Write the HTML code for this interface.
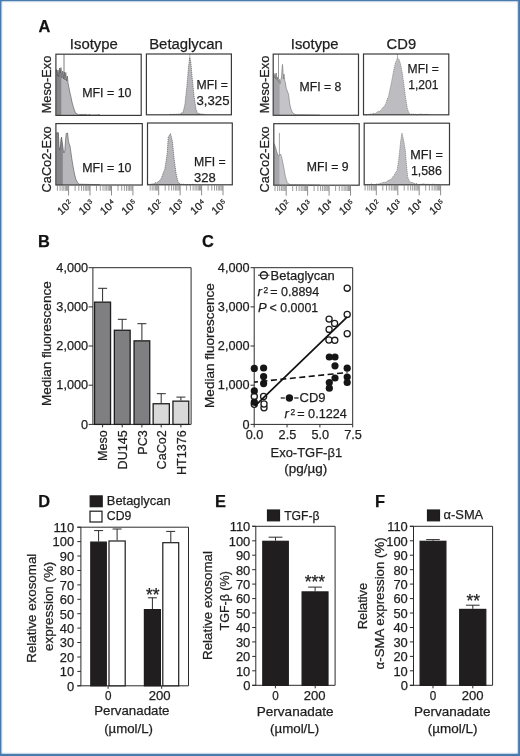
<!DOCTYPE html>
<html><head><meta charset="utf-8"><title>Figure</title>
<style>
html,body{margin:0;padding:0;background:#fff;}
body{width:520px;height:756px;overflow:hidden;position:relative;font-family:"Liberation Sans",sans-serif;}
.ft,.fb,.fl,.fr{position:absolute;}
.ft{left:0;top:0;width:520px;height:5px;background:linear-gradient(to bottom,rgba(70,118,166,1) 0,rgba(74,126,178,1) 0.70px,rgba(74,126,178,.32) 1.50px,rgba(74,126,178,.07) 2.40px,rgba(74,126,178,0) 3.30px);}
.fb{left:0;bottom:0;width:520px;height:6px;background:linear-gradient(to top,rgba(70,118,166,1) 0,rgba(74,126,178,1) 1.70px,rgba(74,126,178,.32) 2.50px,rgba(74,126,178,.07) 3.40px,rgba(74,126,178,0) 4.30px);}
.fl{left:0;top:0;width:6px;height:756px;background:linear-gradient(to right,rgba(70,118,166,1) 0,rgba(74,126,178,1) 0.90px,rgba(74,126,178,.32) 1.70px,rgba(74,126,178,.07) 2.60px,rgba(74,126,178,0) 3.50px);}
.fr{right:0;top:0;width:6px;height:756px;background:linear-gradient(to left,rgba(70,118,166,1) 0,rgba(74,126,178,1) 1.40px,rgba(74,126,178,.32) 2.20px,rgba(74,126,178,.07) 3.10px,rgba(74,126,178,0) 4.00px);}
svg{position:absolute;left:0;top:0;will-change:transform;filter:blur(0.3px);font-family:"Liberation Sans",sans-serif;}
svg text{stroke:#1e1e1e;stroke-width:0.25px;}
</style></head><body>
<svg width="520" height="756" viewBox="0 0 520 756">
<text x="38.4" y="31.6" font-size="16.4" text-anchor="start" font-weight="bold" fill="#111">A</text>
<line x1="64" y1="54.2" x2="64" y2="78" stroke="#7d7d7d" stroke-width="1"/>
<polygon points="56.3,115.4 56.3,72.0 56.6,69.5 57.3,76.0 58.0,70.0 58.7,77.0 59.6,68.0 60.3,73.0 61.0,67.5 61.8,78.0 62.7,71.0 63.5,79.0 64.3,72.0 65.0,80.0 65.8,72.5 66.6,81.0 67.4,76.0 68.0,83.0 69.0,87.8 70.0,93.0 71.0,97.2 72.0,102.0 73.0,105.7 74.0,109.0 75.6,113.3 76.8,113.6 78.0,114.7 79.0,114.7 80.0,114.6 81.0,114.3 82.0,114.8 83.0,114.3 84.0,114.7 85.0,114.4 86.0,114.4 87.0,114.7 88.0,115.2 89.0,114.5 90.0,114.6 91.0,115.0 92.0,115.3 93.0,115.0 94.0,114.8 95.0,115.4 96.0,114.5 97.0,115.3 98.0,114.8 99.0,114.6 100.0,115.0 100.0,115.4" fill="#b7b7bb"/>
<clipPath id="c1"><rect x="55.9" y="54.2" width="5.4" height="61.2"/></clipPath>
<polygon points="56.3,115.4 56.3,72.0 56.6,69.5 57.3,76.0 58.0,70.0 58.7,77.0 59.6,68.0 60.3,73.0 61.0,67.5 61.8,78.0 62.7,71.0 63.5,79.0 64.3,72.0 65.0,80.0 65.8,72.5 66.6,81.0 67.4,76.0 68.0,83.0 69.0,87.8 70.0,93.0 71.0,97.2 72.0,102.0 73.0,105.7 74.0,109.0 75.6,113.3 76.8,113.6 78.0,114.7 79.0,114.7 80.0,114.6 81.0,114.3 82.0,114.8 83.0,114.3 84.0,114.7 85.0,114.4 86.0,114.4 87.0,114.7 88.0,115.2 89.0,114.5 90.0,114.6 91.0,115.0 92.0,115.3 93.0,115.0 94.0,114.8 95.0,115.4 96.0,114.5 97.0,115.3 98.0,114.8 99.0,114.6 100.0,115.0 100.0,115.4" fill="#858589" clip-path="url(#c1)"/>
<polyline points="56.3,72.0 56.6,69.5 57.3,76.0 58.0,70.0 58.7,77.0 59.6,68.0 60.3,73.0 61.0,67.5 61.8,78.0 62.7,71.0 63.5,79.0 64.3,72.0 65.0,80.0 65.8,72.5 66.6,81.0 67.4,76.0 68.0,83.0 69.0,87.8 70.0,93.0 71.0,97.2 72.0,102.0 73.0,105.7 74.0,109.0 75.6,113.3 76.8,113.6 78.0,114.7 79.0,114.7 80.0,114.6 81.0,114.3 82.0,114.8 83.0,114.3 84.0,114.7 85.0,114.4 86.0,114.4 87.0,114.7 88.0,115.2 89.0,114.5 90.0,114.6 91.0,115.0 92.0,115.3 93.0,115.0 94.0,114.8 95.0,115.4 96.0,114.5 97.0,115.3 98.0,114.8 99.0,114.6 100.0,115.0" fill="none" stroke="#505050" stroke-width="0.6" stroke-dasharray="none"/>
<polygon points="56.4,185.0 56.4,133.0 57.4,132.5 58.4,132.8 59.0,146.0 59.6,150.0 60.4,147.0 61.0,139.0 61.6,137.0 62.3,143.0 63.0,148.0 63.8,153.0 64.8,151.0 65.6,140.0 66.2,133.5 67.6,133.0 68.4,141.0 69.2,144.0 70.0,146.0 71.0,153.0 72.0,160.0 73.0,166.0 74.0,171.5 75.0,176.0 76.0,179.5 77.5,182.5 79.0,184.2 100.0,184.7 100.0,185.0" fill="#b7b7bb"/>
<clipPath id="c3"><rect x="55.9" y="123.6" width="6.9" height="61.400000000000006"/></clipPath>
<polygon points="56.4,185.0 56.4,133.0 57.4,132.5 58.4,132.8 59.0,146.0 59.6,150.0 60.4,147.0 61.0,139.0 61.6,137.0 62.3,143.0 63.0,148.0 63.8,153.0 64.8,151.0 65.6,140.0 66.2,133.5 67.6,133.0 68.4,141.0 69.2,144.0 70.0,146.0 71.0,153.0 72.0,160.0 73.0,166.0 74.0,171.5 75.0,176.0 76.0,179.5 77.5,182.5 79.0,184.2 100.0,184.7 100.0,185.0" fill="#858589" clip-path="url(#c3)"/>
<polyline points="56.4,133.0 57.4,132.5 58.4,132.8 59.0,146.0 59.6,150.0 60.4,147.0 61.0,139.0 61.6,137.0 62.3,143.0 63.0,148.0 63.8,153.0 64.8,151.0 65.6,140.0 66.2,133.5 67.6,133.0 68.4,141.0 69.2,144.0 70.0,146.0 71.0,153.0 72.0,160.0 73.0,166.0 74.0,171.5 75.0,176.0 76.0,179.5 77.5,182.5 79.0,184.2 100.0,184.7" fill="none" stroke="#505050" stroke-width="0.6" stroke-dasharray="none"/>
<line x1="278.5" y1="54.1" x2="278.5" y2="79" stroke="#8c8c8c" stroke-width="0.9"/>
<polygon points="273.6,115.3 273.6,73.0 274.3,78.0 275.0,73.5 275.7,79.0 276.3,73.0 277.0,80.0 277.7,77.0 278.4,82.0 279.2,79.0 280.0,84.0 280.8,80.0 281.6,76.0 282.1,68.0 282.5,64.4 282.9,70.0 283.4,79.0 284.0,74.0 284.6,80.0 285.4,83.0 286.3,88.5 287.3,91.0 288.3,93.5 288.9,97.0 289.6,103.0 290.4,107.0 291.2,109.5 292.2,112.0 293.8,113.8 296.0,114.7 320.0,115.0 320.0,115.3" fill="#c4c4c8"/>
<clipPath id="c5"><rect x="273.2" y="54.1" width="6.4" height="61.199999999999996"/></clipPath>
<polygon points="273.6,115.3 273.6,73.0 274.3,78.0 275.0,73.5 275.7,79.0 276.3,73.0 277.0,80.0 277.7,77.0 278.4,82.0 279.2,79.0 280.0,84.0 280.8,80.0 281.6,76.0 282.1,68.0 282.5,64.4 282.9,70.0 283.4,79.0 284.0,74.0 284.6,80.0 285.4,83.0 286.3,88.5 287.3,91.0 288.3,93.5 288.9,97.0 289.6,103.0 290.4,107.0 291.2,109.5 292.2,112.0 293.8,113.8 296.0,114.7 320.0,115.0 320.0,115.3" fill="#a3a3a7" clip-path="url(#c5)"/>
<polyline points="273.6,73.0 274.3,78.0 275.0,73.5 275.7,79.0 276.3,73.0 277.0,80.0 277.7,77.0 278.4,82.0 279.2,79.0 280.0,84.0 280.8,80.0 281.6,76.0 282.1,68.0 282.5,64.4 282.9,70.0 283.4,79.0 284.0,74.0 284.6,80.0 285.4,83.0 286.3,88.5 287.3,91.0 288.3,93.5 288.9,97.0 289.6,103.0 290.4,107.0 291.2,109.5 292.2,112.0 293.8,113.8 296.0,114.7 320.0,115.0" fill="none" stroke="#707070" stroke-width="0.6" stroke-dasharray="none"/>
<line x1="279.4" y1="133" x2="279.4" y2="160" stroke="#9a9a9a" stroke-width="0.9"/>
<polygon points="274.2,185.2 274.2,143.5 275.0,146.0 275.8,148.0 276.7,151.7 277.6,154.0 278.6,156.0 279.6,155.0 280.5,154.0 281.5,156.5 282.5,161.0 283.5,166.0 284.4,171.0 285.4,176.7 286.4,180.0 287.3,182.5 288.6,183.8 290.0,184.6 320.0,185.0 320.0,185.2" fill="#c6c6ca"/>
<clipPath id="c7"><rect x="273.8" y="123.7" width="5.6" height="61.499999999999986"/></clipPath>
<polygon points="274.2,185.2 274.2,143.5 275.0,146.0 275.8,148.0 276.7,151.7 277.6,154.0 278.6,156.0 279.6,155.0 280.5,154.0 281.5,156.5 282.5,161.0 283.5,166.0 284.4,171.0 285.4,176.7 286.4,180.0 287.3,182.5 288.6,183.8 290.0,184.6 320.0,185.0 320.0,185.2" fill="#a6a6aa" clip-path="url(#c7)"/>
<polyline points="274.2,143.5 275.0,146.0 275.8,148.0 276.7,151.7 277.6,154.0 278.6,156.0 279.6,155.0 280.5,154.0 281.5,156.5 282.5,161.0 283.5,166.0 284.4,171.0 285.4,176.7 286.4,180.0 287.3,182.5 288.6,183.8 290.0,184.6 320.0,185.0" fill="none" stroke="#7a7a7a" stroke-width="0.6" stroke-dasharray="none"/>
<line x1="189.8" y1="54.0" x2="189.8" y2="60" stroke="#999" stroke-width="0.7"/>
<polygon points="170.0,114.8 170.0,114.5 171.0,114.2 172.0,114.3 173.0,114.7 174.0,114.1 175.0,114.4 176.0,114.4 177.0,114.2 178.0,114.3 179.0,113.9 180.0,114.2 181.0,113.3 182.0,112.8 183.0,112.5 184.0,108.4 185.0,104.0 186.0,94.4 187.0,85.0 188.5,67.0 189.7,57.5 190.8,62.0 192.0,76.0 193.0,85.9 194.0,96.0 195.0,102.6 196.0,109.0 197.6,113.4 198.7,113.5 199.7,113.6 200.8,114.1 201.8,114.2 202.9,114.0 203.9,114.4 205.0,114.5 205.0,114.8" fill="#b7b7bb"/>
<polyline points="170.0,114.5 171.0,114.2 172.0,114.3 173.0,114.7 174.0,114.1 175.0,114.4 176.0,114.4 177.0,114.2 178.0,114.3 179.0,113.9 180.0,114.2 181.0,113.3 182.0,112.8 183.0,112.5 184.0,108.4 185.0,104.0 186.0,94.4 187.0,85.0 188.5,67.0 189.7,57.5 190.8,62.0 192.0,76.0 193.0,85.9 194.0,96.0 195.0,102.6 196.0,109.0 197.6,113.4 198.7,113.5 199.7,113.6 200.8,114.1 201.8,114.2 202.9,114.0 203.9,114.4 205.0,114.5" fill="none" stroke="#5a5a5a" stroke-width="0.7" stroke-dasharray="1.2 0.8"/>
<polygon points="148.0,184.8 148.0,184.3 149.0,184.2 150.0,184.6 151.0,184.3 152.0,183.5 153.0,184.4 154.0,183.6 155.0,182.7 156.0,182.7 157.0,182.8 158.0,182.0 159.2,180.5 160.4,180.0 161.2,178.5 162.4,175.6 163.5,172.1 164.7,169.8 166.0,161.4 167.3,152.5 168.2,137.0 169.3,135.5 170.4,133.5 171.3,136.5 172.5,142.0 174.2,159.4 176.0,173.0 177.7,181.0 178.8,182.8 180.0,183.8 181.0,184.1 182.0,184.7 183.0,184.4 184.0,184.2 185.0,184.7 186.0,184.6 187.0,184.6 188.0,184.4 189.0,185.0 190.0,185.1 191.0,184.5 192.0,184.8 193.0,184.0 194.0,184.9 195.0,184.6 195.0,184.8" fill="#b7b7bb"/>
<polyline points="148.0,184.3 149.0,184.2 150.0,184.6 151.0,184.3 152.0,183.5 153.0,184.4 154.0,183.6 155.0,182.7 156.0,182.7 157.0,182.8 158.0,182.0 159.2,180.5 160.4,180.0 161.2,178.5 162.4,175.6 163.5,172.1 164.7,169.8 166.0,161.4 167.3,152.5 168.2,137.0 169.3,135.5 170.4,133.5 171.3,136.5 172.5,142.0 174.2,159.4 176.0,173.0 177.7,181.0 178.8,182.8 180.0,183.8 181.0,184.1 182.0,184.7 183.0,184.4 184.0,184.2 185.0,184.7 186.0,184.6 187.0,184.6 188.0,184.4 189.0,185.0 190.0,185.1 191.0,184.5 192.0,184.8 193.0,184.0 194.0,184.9 195.0,184.6" fill="none" stroke="#5a5a5a" stroke-width="0.7" stroke-dasharray="1.2 0.8"/>
<line x1="397.5" y1="54.0" x2="397.5" y2="59" stroke="#999" stroke-width="0.7"/>
<polygon points="364.0,114.8 364.0,114.6 365.1,114.7 366.2,115.1 367.4,114.8 368.5,114.4 369.6,114.0 370.8,114.0 371.9,114.2 373.1,113.2 374.2,113.6 375.4,113.5 376.4,112.5 377.5,111.9 378.5,111.2 379.6,111.5 380.6,110.6 381.7,108.9 382.8,107.7 383.8,106.6 384.9,105.4 386.1,102.9 387.2,99.1 388.4,96.7 389.7,90.6 391.0,84.6 392.3,77.8 393.6,70.8 395.5,62.5 396.5,60.6 397.5,57.8 399.0,59.5 400.5,63.8 402.2,72.5 403.9,84.6 405.7,98.5 407.4,108.8 409.1,113.4 410.3,114.0 411.6,114.3 412.8,113.9 414.0,114.4 415.0,114.3 416.0,114.3 417.0,114.9 418.0,115.0 419.0,114.0 420.0,114.1 421.0,114.2 422.0,114.2 423.0,114.5 424.0,114.6 425.0,114.3 426.0,114.0 427.0,114.5 428.0,114.4 429.0,114.7 430.0,114.6 430.0,114.8" fill="#bdbdc1"/>
<polyline points="364.0,114.6 365.1,114.7 366.2,115.1 367.4,114.8 368.5,114.4 369.6,114.0 370.8,114.0 371.9,114.2 373.1,113.2 374.2,113.6 375.4,113.5 376.4,112.5 377.5,111.9 378.5,111.2 379.6,111.5 380.6,110.6 381.7,108.9 382.8,107.7 383.8,106.6 384.9,105.4 386.1,102.9 387.2,99.1 388.4,96.7 389.7,90.6 391.0,84.6 392.3,77.8 393.6,70.8 395.5,62.5 396.5,60.6 397.5,57.8 399.0,59.5 400.5,63.8 402.2,72.5 403.9,84.6 405.7,98.5 407.4,108.8 409.1,113.4 410.3,114.0 411.6,114.3 412.8,113.9 414.0,114.4 415.0,114.3 416.0,114.3 417.0,114.9 418.0,115.0 419.0,114.0 420.0,114.1 421.0,114.2 422.0,114.2 423.0,114.5 424.0,114.6 425.0,114.3 426.0,114.0 427.0,114.5 428.0,114.4 429.0,114.7 430.0,114.6" fill="none" stroke="#777" stroke-width="0.7" stroke-dasharray="1.2 0.8"/>
<polygon points="365.0,184.8 365.0,184.5 366.1,185.0 367.1,184.7 368.2,184.4 369.2,184.5 370.3,184.5 371.4,183.7 372.4,184.7 373.5,184.5 374.6,184.6 375.6,184.5 376.7,183.9 377.7,183.9 378.8,184.0 379.8,183.3 380.8,183.7 381.8,182.7 382.8,182.5 383.8,182.4 384.8,182.1 385.8,182.3 386.8,181.6 387.9,180.7 388.9,180.1 390.0,179.8 391.0,179.7 392.3,177.4 393.6,176.0 394.7,174.2 395.9,172.1 397.0,171.0 398.7,159.8 400.5,142.5 401.9,133.0 403.4,139.0 405.2,149.4 406.5,165.0 407.7,177.0 408.9,179.9 410.0,182.0 411.0,182.5 412.0,182.3 413.0,182.7 414.0,183.2 415.0,183.7 416.0,183.7 417.0,183.5 418.0,184.5 419.0,184.8 420.0,184.3 421.0,184.3 422.0,184.3 423.0,183.8 424.0,183.9 425.0,184.2 426.0,184.1 427.0,184.8 428.0,184.0 429.0,183.9 430.0,185.0 431.0,184.5 432.0,184.1 433.0,184.5 434.0,183.9 435.0,184.6 436.0,185.1 437.0,185.0 438.0,184.8 439.0,184.3 440.0,184.6 440.0,184.8" fill="#bdbdc1"/>
<polyline points="365.0,184.5 366.1,185.0 367.1,184.7 368.2,184.4 369.2,184.5 370.3,184.5 371.4,183.7 372.4,184.7 373.5,184.5 374.6,184.6 375.6,184.5 376.7,183.9 377.7,183.9 378.8,184.0 379.8,183.3 380.8,183.7 381.8,182.7 382.8,182.5 383.8,182.4 384.8,182.1 385.8,182.3 386.8,181.6 387.9,180.7 388.9,180.1 390.0,179.8 391.0,179.7 392.3,177.4 393.6,176.0 394.7,174.2 395.9,172.1 397.0,171.0 398.7,159.8 400.5,142.5 401.9,133.0 403.4,139.0 405.2,149.4 406.5,165.0 407.7,177.0 408.9,179.9 410.0,182.0 411.0,182.5 412.0,182.3 413.0,182.7 414.0,183.2 415.0,183.7 416.0,183.7 417.0,183.5 418.0,184.5 419.0,184.8 420.0,184.3 421.0,184.3 422.0,184.3 423.0,183.8 424.0,183.9 425.0,184.2 426.0,184.1 427.0,184.8 428.0,184.0 429.0,183.9 430.0,185.0 431.0,184.5 432.0,184.1 433.0,184.5 434.0,183.9 435.0,184.6 436.0,185.1 437.0,185.0 438.0,184.8 439.0,184.3 440.0,184.6" fill="none" stroke="#777" stroke-width="0.7" stroke-dasharray="1.2 0.8"/>
<rect x="55.90" y="54.20" width="85.30" height="61.20" fill="none" stroke="#3a3a3a" stroke-width="1.2"/>
<rect x="146.40" y="54.00" width="85.00" height="60.80" fill="none" stroke="#3a3a3a" stroke-width="1.2"/>
<rect x="55.90" y="123.60" width="86.40" height="61.40" fill="none" stroke="#3a3a3a" stroke-width="1.2"/>
<rect x="147.50" y="123.00" width="84.80" height="61.80" fill="none" stroke="#3a3a3a" stroke-width="1.2"/>
<rect x="273.20" y="54.10" width="85.30" height="61.20" fill="none" stroke="#3a3a3a" stroke-width="1.2"/>
<rect x="363.50" y="54.00" width="85.30" height="60.80" fill="none" stroke="#3a3a3a" stroke-width="1.2"/>
<rect x="273.80" y="123.70" width="85.40" height="61.50" fill="none" stroke="#3a3a3a" stroke-width="1.2"/>
<rect x="364.20" y="123.20" width="85.30" height="61.60" fill="none" stroke="#3a3a3a" stroke-width="1.2"/>
<text x="69.8" y="48.6" font-size="14.9" text-anchor="start" font-weight="normal" fill="#1e1e1e" textLength="48.1" lengthAdjust="spacingAndGlyphs">Isotype</text>
<text x="149.2" y="48.6" font-size="14.9" text-anchor="start" font-weight="normal" fill="#1e1e1e" textLength="73.6" lengthAdjust="spacingAndGlyphs">Betaglycan</text>
<text x="290.8" y="48.8" font-size="14.9" text-anchor="start" font-weight="normal" fill="#1e1e1e" textLength="47.8" lengthAdjust="spacingAndGlyphs">Isotype</text>
<text x="386.6" y="48.8" font-size="14.9" text-anchor="start" font-weight="normal" fill="#1e1e1e" textLength="29.5" lengthAdjust="spacingAndGlyphs">CD9</text>
<text x="51.3" y="84.5" font-size="12.8" text-anchor="middle" font-weight="normal" fill="#1e1e1e" transform="rotate(-90 51.3 84.5)">Meso-Exo</text>
<text x="51.3" y="159.4" font-size="12.8" text-anchor="middle" font-weight="normal" fill="#1e1e1e" transform="rotate(-90 51.3 159.4)">CaCo2-Exo</text>
<text x="268.6" y="84.5" font-size="12.8" text-anchor="middle" font-weight="normal" fill="#1e1e1e" transform="rotate(-90 268.6 84.5)">Meso-Exo</text>
<text x="268.6" y="159.4" font-size="12.8" text-anchor="middle" font-weight="normal" fill="#1e1e1e" transform="rotate(-90 268.6 159.4)">CaCo2-Exo</text>
<text x="82.2" y="97" font-size="13" text-anchor="start" font-weight="normal" fill="#1e1e1e" textLength="49.3" lengthAdjust="spacingAndGlyphs">MFI = 10</text>
<text x="82.2" y="171.5" font-size="13" text-anchor="start" font-weight="normal" fill="#1e1e1e" textLength="49.3" lengthAdjust="spacingAndGlyphs">MFI = 10</text>
<text x="196.5" y="89.4" font-size="13" text-anchor="start" font-weight="normal" fill="#1e1e1e" textLength="31.5" lengthAdjust="spacingAndGlyphs">MFI =</text>
<text x="196.5" y="105" font-size="13" text-anchor="start" font-weight="normal" fill="#1e1e1e" textLength="33" lengthAdjust="spacingAndGlyphs">3,325</text>
<text x="194.1" y="166.3" font-size="13" text-anchor="start" font-weight="normal" fill="#1e1e1e" textLength="31.7" lengthAdjust="spacingAndGlyphs">MFI =</text>
<text x="194.1" y="181.9" font-size="13" text-anchor="start" font-weight="normal" fill="#1e1e1e">328</text>
<text x="299.6" y="91.2" font-size="13" text-anchor="start" font-weight="normal" fill="#1e1e1e" textLength="41.7" lengthAdjust="spacingAndGlyphs">MFI = 8</text>
<text x="306.7" y="170.7" font-size="13" text-anchor="start" font-weight="normal" fill="#1e1e1e" textLength="41.9" lengthAdjust="spacingAndGlyphs">MFI = 9</text>
<text x="407.6" y="73.4" font-size="13" text-anchor="start" font-weight="normal" fill="#1e1e1e" textLength="31.2" lengthAdjust="spacingAndGlyphs">MFI =</text>
<text x="408.3" y="88.9" font-size="13" text-anchor="start" font-weight="normal" fill="#1e1e1e" textLength="30.2" lengthAdjust="spacingAndGlyphs">1,201</text>
<text x="410.2" y="158.9" font-size="13" text-anchor="start" font-weight="normal" fill="#1e1e1e" textLength="32.6" lengthAdjust="spacingAndGlyphs">MFI =</text>
<text x="410.9" y="174.5" font-size="13" text-anchor="start" font-weight="normal" fill="#1e1e1e" textLength="31.0" lengthAdjust="spacingAndGlyphs">1,586</text>
<line x1="68.6" y1="185.0" x2="68.6" y2="195.5" stroke="#808080" stroke-width="0.9"/>
<g transform="translate(73.3 204.5) rotate(-42)"><text x="0" y="0" font-size="10.8" text-anchor="end" fill="#1e1e1e">10<tspan font-size="6.6" dy="-3.2" dx="0.6">2</tspan></text></g>
<line x1="90.0" y1="185.0" x2="90.0" y2="195.5" stroke="#808080" stroke-width="0.9"/>
<g transform="translate(94.8 204.5) rotate(-42)"><text x="0" y="0" font-size="10.8" text-anchor="end" fill="#1e1e1e">10<tspan font-size="6.6" dy="-3.2" dx="0.6">3</tspan></text></g>
<line x1="111.5" y1="185.0" x2="111.5" y2="195.5" stroke="#808080" stroke-width="0.9"/>
<g transform="translate(116.2 204.5) rotate(-42)"><text x="0" y="0" font-size="10.8" text-anchor="end" fill="#1e1e1e">10<tspan font-size="6.6" dy="-3.2" dx="0.6">4</tspan></text></g>
<line x1="132.9" y1="185.0" x2="132.9" y2="195.5" stroke="#808080" stroke-width="0.9"/>
<g transform="translate(137.6 204.5) rotate(-42)"><text x="0" y="0" font-size="10.8" text-anchor="end" fill="#1e1e1e">10<tspan font-size="6.6" dy="-3.2" dx="0.6">5</tspan></text></g>
<line x1="57.4" y1="185.0" x2="57.4" y2="190.8" stroke="#7c7c7c" stroke-width="0.75"/>
<line x1="60.1" y1="185.0" x2="60.1" y2="190.8" stroke="#7c7c7c" stroke-width="0.75"/>
<line x1="62.1" y1="185.0" x2="62.1" y2="190.8" stroke="#7c7c7c" stroke-width="0.75"/>
<line x1="63.8" y1="185.0" x2="63.8" y2="190.8" stroke="#7c7c7c" stroke-width="0.75"/>
<line x1="65.3" y1="185.0" x2="65.3" y2="190.8" stroke="#7c7c7c" stroke-width="0.75"/>
<line x1="66.5" y1="185.0" x2="66.5" y2="190.8" stroke="#7c7c7c" stroke-width="0.75"/>
<line x1="67.6" y1="185.0" x2="67.6" y2="190.8" stroke="#7c7c7c" stroke-width="0.75"/>
<line x1="75.1" y1="185.0" x2="75.1" y2="190.8" stroke="#7c7c7c" stroke-width="0.75"/>
<line x1="78.8" y1="185.0" x2="78.8" y2="190.8" stroke="#7c7c7c" stroke-width="0.75"/>
<line x1="81.5" y1="185.0" x2="81.5" y2="190.8" stroke="#7c7c7c" stroke-width="0.75"/>
<line x1="83.6" y1="185.0" x2="83.6" y2="190.8" stroke="#7c7c7c" stroke-width="0.75"/>
<line x1="85.3" y1="185.0" x2="85.3" y2="190.8" stroke="#7c7c7c" stroke-width="0.75"/>
<line x1="86.7" y1="185.0" x2="86.7" y2="190.8" stroke="#7c7c7c" stroke-width="0.75"/>
<line x1="88.0" y1="185.0" x2="88.0" y2="190.8" stroke="#7c7c7c" stroke-width="0.75"/>
<line x1="89.1" y1="185.0" x2="89.1" y2="190.8" stroke="#7c7c7c" stroke-width="0.75"/>
<line x1="96.5" y1="185.0" x2="96.5" y2="190.8" stroke="#7c7c7c" stroke-width="0.75"/>
<line x1="100.3" y1="185.0" x2="100.3" y2="190.8" stroke="#7c7c7c" stroke-width="0.75"/>
<line x1="103.0" y1="185.0" x2="103.0" y2="190.8" stroke="#7c7c7c" stroke-width="0.75"/>
<line x1="105.0" y1="185.0" x2="105.0" y2="190.8" stroke="#7c7c7c" stroke-width="0.75"/>
<line x1="106.7" y1="185.0" x2="106.7" y2="190.8" stroke="#7c7c7c" stroke-width="0.75"/>
<line x1="108.2" y1="185.0" x2="108.2" y2="190.8" stroke="#7c7c7c" stroke-width="0.75"/>
<line x1="109.4" y1="185.0" x2="109.4" y2="190.8" stroke="#7c7c7c" stroke-width="0.75"/>
<line x1="110.5" y1="185.0" x2="110.5" y2="190.8" stroke="#7c7c7c" stroke-width="0.75"/>
<line x1="118.0" y1="185.0" x2="118.0" y2="190.8" stroke="#7c7c7c" stroke-width="0.75"/>
<line x1="121.7" y1="185.0" x2="121.7" y2="190.8" stroke="#7c7c7c" stroke-width="0.75"/>
<line x1="124.4" y1="185.0" x2="124.4" y2="190.8" stroke="#7c7c7c" stroke-width="0.75"/>
<line x1="126.5" y1="185.0" x2="126.5" y2="190.8" stroke="#7c7c7c" stroke-width="0.75"/>
<line x1="128.2" y1="185.0" x2="128.2" y2="190.8" stroke="#7c7c7c" stroke-width="0.75"/>
<line x1="129.6" y1="185.0" x2="129.6" y2="190.8" stroke="#7c7c7c" stroke-width="0.75"/>
<line x1="130.9" y1="185.0" x2="130.9" y2="190.8" stroke="#7c7c7c" stroke-width="0.75"/>
<line x1="132.0" y1="185.0" x2="132.0" y2="190.8" stroke="#7c7c7c" stroke-width="0.75"/>
<line x1="158.7" y1="184.8" x2="158.7" y2="195.3" stroke="#808080" stroke-width="0.9"/>
<g transform="translate(163.4 204.3) rotate(-42)"><text x="0" y="0" font-size="10.8" text-anchor="end" fill="#1e1e1e">10<tspan font-size="6.6" dy="-3.2" dx="0.6">2</tspan></text></g>
<line x1="180.1" y1="184.8" x2="180.1" y2="195.3" stroke="#808080" stroke-width="0.9"/>
<g transform="translate(184.8 204.3) rotate(-42)"><text x="0" y="0" font-size="10.8" text-anchor="end" fill="#1e1e1e">10<tspan font-size="6.6" dy="-3.2" dx="0.6">3</tspan></text></g>
<line x1="201.6" y1="184.8" x2="201.6" y2="195.3" stroke="#808080" stroke-width="0.9"/>
<g transform="translate(206.3 204.3) rotate(-42)"><text x="0" y="0" font-size="10.8" text-anchor="end" fill="#1e1e1e">10<tspan font-size="6.6" dy="-3.2" dx="0.6">4</tspan></text></g>
<line x1="223.0" y1="184.8" x2="223.0" y2="195.3" stroke="#808080" stroke-width="0.9"/>
<g transform="translate(227.7 204.3) rotate(-42)"><text x="0" y="0" font-size="10.8" text-anchor="end" fill="#1e1e1e">10<tspan font-size="6.6" dy="-3.2" dx="0.6">5</tspan></text></g>
<line x1="150.2" y1="184.8" x2="150.2" y2="190.60000000000002" stroke="#7c7c7c" stroke-width="0.75"/>
<line x1="152.2" y1="184.8" x2="152.2" y2="190.60000000000002" stroke="#7c7c7c" stroke-width="0.75"/>
<line x1="153.9" y1="184.8" x2="153.9" y2="190.60000000000002" stroke="#7c7c7c" stroke-width="0.75"/>
<line x1="155.4" y1="184.8" x2="155.4" y2="190.60000000000002" stroke="#7c7c7c" stroke-width="0.75"/>
<line x1="156.6" y1="184.8" x2="156.6" y2="190.60000000000002" stroke="#7c7c7c" stroke-width="0.75"/>
<line x1="157.7" y1="184.8" x2="157.7" y2="190.60000000000002" stroke="#7c7c7c" stroke-width="0.75"/>
<line x1="165.2" y1="184.8" x2="165.2" y2="190.60000000000002" stroke="#7c7c7c" stroke-width="0.75"/>
<line x1="168.9" y1="184.8" x2="168.9" y2="190.60000000000002" stroke="#7c7c7c" stroke-width="0.75"/>
<line x1="171.6" y1="184.8" x2="171.6" y2="190.60000000000002" stroke="#7c7c7c" stroke-width="0.75"/>
<line x1="173.7" y1="184.8" x2="173.7" y2="190.60000000000002" stroke="#7c7c7c" stroke-width="0.75"/>
<line x1="175.4" y1="184.8" x2="175.4" y2="190.60000000000002" stroke="#7c7c7c" stroke-width="0.75"/>
<line x1="176.8" y1="184.8" x2="176.8" y2="190.60000000000002" stroke="#7c7c7c" stroke-width="0.75"/>
<line x1="178.1" y1="184.8" x2="178.1" y2="190.60000000000002" stroke="#7c7c7c" stroke-width="0.75"/>
<line x1="179.2" y1="184.8" x2="179.2" y2="190.60000000000002" stroke="#7c7c7c" stroke-width="0.75"/>
<line x1="186.6" y1="184.8" x2="186.6" y2="190.60000000000002" stroke="#7c7c7c" stroke-width="0.75"/>
<line x1="190.4" y1="184.8" x2="190.4" y2="190.60000000000002" stroke="#7c7c7c" stroke-width="0.75"/>
<line x1="193.1" y1="184.8" x2="193.1" y2="190.60000000000002" stroke="#7c7c7c" stroke-width="0.75"/>
<line x1="195.1" y1="184.8" x2="195.1" y2="190.60000000000002" stroke="#7c7c7c" stroke-width="0.75"/>
<line x1="196.8" y1="184.8" x2="196.8" y2="190.60000000000002" stroke="#7c7c7c" stroke-width="0.75"/>
<line x1="198.3" y1="184.8" x2="198.3" y2="190.60000000000002" stroke="#7c7c7c" stroke-width="0.75"/>
<line x1="199.5" y1="184.8" x2="199.5" y2="190.60000000000002" stroke="#7c7c7c" stroke-width="0.75"/>
<line x1="200.6" y1="184.8" x2="200.6" y2="190.60000000000002" stroke="#7c7c7c" stroke-width="0.75"/>
<line x1="208.1" y1="184.8" x2="208.1" y2="190.60000000000002" stroke="#7c7c7c" stroke-width="0.75"/>
<line x1="211.8" y1="184.8" x2="211.8" y2="190.60000000000002" stroke="#7c7c7c" stroke-width="0.75"/>
<line x1="214.5" y1="184.8" x2="214.5" y2="190.60000000000002" stroke="#7c7c7c" stroke-width="0.75"/>
<line x1="216.6" y1="184.8" x2="216.6" y2="190.60000000000002" stroke="#7c7c7c" stroke-width="0.75"/>
<line x1="218.3" y1="184.8" x2="218.3" y2="190.60000000000002" stroke="#7c7c7c" stroke-width="0.75"/>
<line x1="219.7" y1="184.8" x2="219.7" y2="190.60000000000002" stroke="#7c7c7c" stroke-width="0.75"/>
<line x1="221.0" y1="184.8" x2="221.0" y2="190.60000000000002" stroke="#7c7c7c" stroke-width="0.75"/>
<line x1="222.1" y1="184.8" x2="222.1" y2="190.60000000000002" stroke="#7c7c7c" stroke-width="0.75"/>
<line x1="286.2" y1="185.2" x2="286.2" y2="195.7" stroke="#808080" stroke-width="0.9"/>
<g transform="translate(290.9 204.7) rotate(-42)"><text x="0" y="0" font-size="10.8" text-anchor="end" fill="#1e1e1e">10<tspan font-size="6.6" dy="-3.2" dx="0.6">2</tspan></text></g>
<line x1="307.6" y1="185.2" x2="307.6" y2="195.7" stroke="#808080" stroke-width="0.9"/>
<g transform="translate(312.3 204.7) rotate(-42)"><text x="0" y="0" font-size="10.8" text-anchor="end" fill="#1e1e1e">10<tspan font-size="6.6" dy="-3.2" dx="0.6">3</tspan></text></g>
<line x1="329.1" y1="185.2" x2="329.1" y2="195.7" stroke="#808080" stroke-width="0.9"/>
<g transform="translate(333.8 204.7) rotate(-42)"><text x="0" y="0" font-size="10.8" text-anchor="end" fill="#1e1e1e">10<tspan font-size="6.6" dy="-3.2" dx="0.6">4</tspan></text></g>
<line x1="350.5" y1="185.2" x2="350.5" y2="195.7" stroke="#808080" stroke-width="0.9"/>
<g transform="translate(355.2 204.7) rotate(-42)"><text x="0" y="0" font-size="10.8" text-anchor="end" fill="#1e1e1e">10<tspan font-size="6.6" dy="-3.2" dx="0.6">5</tspan></text></g>
<line x1="275.0" y1="185.2" x2="275.0" y2="191.0" stroke="#7c7c7c" stroke-width="0.75"/>
<line x1="277.7" y1="185.2" x2="277.7" y2="191.0" stroke="#7c7c7c" stroke-width="0.75"/>
<line x1="279.7" y1="185.2" x2="279.7" y2="191.0" stroke="#7c7c7c" stroke-width="0.75"/>
<line x1="281.4" y1="185.2" x2="281.4" y2="191.0" stroke="#7c7c7c" stroke-width="0.75"/>
<line x1="282.9" y1="185.2" x2="282.9" y2="191.0" stroke="#7c7c7c" stroke-width="0.75"/>
<line x1="284.1" y1="185.2" x2="284.1" y2="191.0" stroke="#7c7c7c" stroke-width="0.75"/>
<line x1="285.2" y1="185.2" x2="285.2" y2="191.0" stroke="#7c7c7c" stroke-width="0.75"/>
<line x1="292.7" y1="185.2" x2="292.7" y2="191.0" stroke="#7c7c7c" stroke-width="0.75"/>
<line x1="296.4" y1="185.2" x2="296.4" y2="191.0" stroke="#7c7c7c" stroke-width="0.75"/>
<line x1="299.1" y1="185.2" x2="299.1" y2="191.0" stroke="#7c7c7c" stroke-width="0.75"/>
<line x1="301.2" y1="185.2" x2="301.2" y2="191.0" stroke="#7c7c7c" stroke-width="0.75"/>
<line x1="302.9" y1="185.2" x2="302.9" y2="191.0" stroke="#7c7c7c" stroke-width="0.75"/>
<line x1="304.3" y1="185.2" x2="304.3" y2="191.0" stroke="#7c7c7c" stroke-width="0.75"/>
<line x1="305.6" y1="185.2" x2="305.6" y2="191.0" stroke="#7c7c7c" stroke-width="0.75"/>
<line x1="306.7" y1="185.2" x2="306.7" y2="191.0" stroke="#7c7c7c" stroke-width="0.75"/>
<line x1="314.1" y1="185.2" x2="314.1" y2="191.0" stroke="#7c7c7c" stroke-width="0.75"/>
<line x1="317.9" y1="185.2" x2="317.9" y2="191.0" stroke="#7c7c7c" stroke-width="0.75"/>
<line x1="320.6" y1="185.2" x2="320.6" y2="191.0" stroke="#7c7c7c" stroke-width="0.75"/>
<line x1="322.6" y1="185.2" x2="322.6" y2="191.0" stroke="#7c7c7c" stroke-width="0.75"/>
<line x1="324.3" y1="185.2" x2="324.3" y2="191.0" stroke="#7c7c7c" stroke-width="0.75"/>
<line x1="325.8" y1="185.2" x2="325.8" y2="191.0" stroke="#7c7c7c" stroke-width="0.75"/>
<line x1="327.0" y1="185.2" x2="327.0" y2="191.0" stroke="#7c7c7c" stroke-width="0.75"/>
<line x1="328.1" y1="185.2" x2="328.1" y2="191.0" stroke="#7c7c7c" stroke-width="0.75"/>
<line x1="335.6" y1="185.2" x2="335.6" y2="191.0" stroke="#7c7c7c" stroke-width="0.75"/>
<line x1="339.3" y1="185.2" x2="339.3" y2="191.0" stroke="#7c7c7c" stroke-width="0.75"/>
<line x1="342.0" y1="185.2" x2="342.0" y2="191.0" stroke="#7c7c7c" stroke-width="0.75"/>
<line x1="344.1" y1="185.2" x2="344.1" y2="191.0" stroke="#7c7c7c" stroke-width="0.75"/>
<line x1="345.8" y1="185.2" x2="345.8" y2="191.0" stroke="#7c7c7c" stroke-width="0.75"/>
<line x1="347.2" y1="185.2" x2="347.2" y2="191.0" stroke="#7c7c7c" stroke-width="0.75"/>
<line x1="348.5" y1="185.2" x2="348.5" y2="191.0" stroke="#7c7c7c" stroke-width="0.75"/>
<line x1="349.6" y1="185.2" x2="349.6" y2="191.0" stroke="#7c7c7c" stroke-width="0.75"/>
<line x1="376.3" y1="184.8" x2="376.3" y2="195.3" stroke="#808080" stroke-width="0.9"/>
<g transform="translate(381.0 204.3) rotate(-42)"><text x="0" y="0" font-size="10.8" text-anchor="end" fill="#1e1e1e">10<tspan font-size="6.6" dy="-3.2" dx="0.6">2</tspan></text></g>
<line x1="397.8" y1="184.8" x2="397.8" y2="195.3" stroke="#808080" stroke-width="0.9"/>
<g transform="translate(402.4 204.3) rotate(-42)"><text x="0" y="0" font-size="10.8" text-anchor="end" fill="#1e1e1e">10<tspan font-size="6.6" dy="-3.2" dx="0.6">3</tspan></text></g>
<line x1="419.2" y1="184.8" x2="419.2" y2="195.3" stroke="#808080" stroke-width="0.9"/>
<g transform="translate(423.9 204.3) rotate(-42)"><text x="0" y="0" font-size="10.8" text-anchor="end" fill="#1e1e1e">10<tspan font-size="6.6" dy="-3.2" dx="0.6">4</tspan></text></g>
<line x1="440.6" y1="184.8" x2="440.6" y2="195.3" stroke="#808080" stroke-width="0.9"/>
<g transform="translate(445.3 204.3) rotate(-42)"><text x="0" y="0" font-size="10.8" text-anchor="end" fill="#1e1e1e">10<tspan font-size="6.6" dy="-3.2" dx="0.6">5</tspan></text></g>
<line x1="365.1" y1="184.8" x2="365.1" y2="190.60000000000002" stroke="#7c7c7c" stroke-width="0.75"/>
<line x1="367.8" y1="184.8" x2="367.8" y2="190.60000000000002" stroke="#7c7c7c" stroke-width="0.75"/>
<line x1="369.8" y1="184.8" x2="369.8" y2="190.60000000000002" stroke="#7c7c7c" stroke-width="0.75"/>
<line x1="371.5" y1="184.8" x2="371.5" y2="190.60000000000002" stroke="#7c7c7c" stroke-width="0.75"/>
<line x1="373.0" y1="184.8" x2="373.0" y2="190.60000000000002" stroke="#7c7c7c" stroke-width="0.75"/>
<line x1="374.2" y1="184.8" x2="374.2" y2="190.60000000000002" stroke="#7c7c7c" stroke-width="0.75"/>
<line x1="375.3" y1="184.8" x2="375.3" y2="190.60000000000002" stroke="#7c7c7c" stroke-width="0.75"/>
<line x1="382.8" y1="184.8" x2="382.8" y2="190.60000000000002" stroke="#7c7c7c" stroke-width="0.75"/>
<line x1="386.5" y1="184.8" x2="386.5" y2="190.60000000000002" stroke="#7c7c7c" stroke-width="0.75"/>
<line x1="389.2" y1="184.8" x2="389.2" y2="190.60000000000002" stroke="#7c7c7c" stroke-width="0.75"/>
<line x1="391.3" y1="184.8" x2="391.3" y2="190.60000000000002" stroke="#7c7c7c" stroke-width="0.75"/>
<line x1="393.0" y1="184.8" x2="393.0" y2="190.60000000000002" stroke="#7c7c7c" stroke-width="0.75"/>
<line x1="394.4" y1="184.8" x2="394.4" y2="190.60000000000002" stroke="#7c7c7c" stroke-width="0.75"/>
<line x1="395.7" y1="184.8" x2="395.7" y2="190.60000000000002" stroke="#7c7c7c" stroke-width="0.75"/>
<line x1="396.8" y1="184.8" x2="396.8" y2="190.60000000000002" stroke="#7c7c7c" stroke-width="0.75"/>
<line x1="404.2" y1="184.8" x2="404.2" y2="190.60000000000002" stroke="#7c7c7c" stroke-width="0.75"/>
<line x1="408.0" y1="184.8" x2="408.0" y2="190.60000000000002" stroke="#7c7c7c" stroke-width="0.75"/>
<line x1="410.7" y1="184.8" x2="410.7" y2="190.60000000000002" stroke="#7c7c7c" stroke-width="0.75"/>
<line x1="412.7" y1="184.8" x2="412.7" y2="190.60000000000002" stroke="#7c7c7c" stroke-width="0.75"/>
<line x1="414.4" y1="184.8" x2="414.4" y2="190.60000000000002" stroke="#7c7c7c" stroke-width="0.75"/>
<line x1="415.9" y1="184.8" x2="415.9" y2="190.60000000000002" stroke="#7c7c7c" stroke-width="0.75"/>
<line x1="417.1" y1="184.8" x2="417.1" y2="190.60000000000002" stroke="#7c7c7c" stroke-width="0.75"/>
<line x1="418.2" y1="184.8" x2="418.2" y2="190.60000000000002" stroke="#7c7c7c" stroke-width="0.75"/>
<line x1="425.7" y1="184.8" x2="425.7" y2="190.60000000000002" stroke="#7c7c7c" stroke-width="0.75"/>
<line x1="429.4" y1="184.8" x2="429.4" y2="190.60000000000002" stroke="#7c7c7c" stroke-width="0.75"/>
<line x1="432.1" y1="184.8" x2="432.1" y2="190.60000000000002" stroke="#7c7c7c" stroke-width="0.75"/>
<line x1="434.2" y1="184.8" x2="434.2" y2="190.60000000000002" stroke="#7c7c7c" stroke-width="0.75"/>
<line x1="435.9" y1="184.8" x2="435.9" y2="190.60000000000002" stroke="#7c7c7c" stroke-width="0.75"/>
<line x1="437.3" y1="184.8" x2="437.3" y2="190.60000000000002" stroke="#7c7c7c" stroke-width="0.75"/>
<line x1="438.6" y1="184.8" x2="438.6" y2="190.60000000000002" stroke="#7c7c7c" stroke-width="0.75"/>
<line x1="439.7" y1="184.8" x2="439.7" y2="190.60000000000002" stroke="#7c7c7c" stroke-width="0.75"/>
<text x="38.0" y="247.0" font-size="16.4" text-anchor="start" font-weight="bold" fill="#111">B</text>
<path d="M92.9 424.4 V267.7 H191.1 V424.4 Z" fill="none" stroke="#2a2a2a" stroke-width="1"/>
<line x1="88.60000000000001" y1="424.4" x2="92.9" y2="424.4" stroke="#2a2a2a" stroke-width="1"/>
<text x="88.1" y="428.6" font-size="12.7" text-anchor="end" font-weight="normal" fill="#1e1e1e">0</text>
<line x1="88.60000000000001" y1="385.2" x2="92.9" y2="385.2" stroke="#2a2a2a" stroke-width="1"/>
<text x="88.1" y="389.4" font-size="12.7" text-anchor="end" font-weight="normal" fill="#1e1e1e">1,000</text>
<line x1="88.60000000000001" y1="346.0" x2="92.9" y2="346.0" stroke="#2a2a2a" stroke-width="1"/>
<text x="88.1" y="350.2" font-size="12.7" text-anchor="end" font-weight="normal" fill="#1e1e1e">2,000</text>
<line x1="88.60000000000001" y1="306.9" x2="92.9" y2="306.9" stroke="#2a2a2a" stroke-width="1"/>
<text x="88.1" y="311.1" font-size="12.7" text-anchor="end" font-weight="normal" fill="#1e1e1e">3,000</text>
<line x1="88.60000000000001" y1="267.7" x2="92.9" y2="267.7" stroke="#2a2a2a" stroke-width="1"/>
<text x="88.1" y="271.9" font-size="12.7" text-anchor="end" font-weight="normal" fill="#1e1e1e">4,000</text>
<line x1="102.6" y1="301.5" x2="102.6" y2="288.3" stroke="#2a2a2a" stroke-width="1"/>
<line x1="98.1" y1="288.3" x2="107.1" y2="288.3" stroke="#2a2a2a" stroke-width="1"/>
<rect x="94.55" y="302.15" width="16.00" height="122.25" fill="#7f7f81" stroke="#1e1e1e" stroke-width="1.3"/>
<line x1="102.6" y1="424.4" x2="102.6" y2="427.4" stroke="#2a2a2a" stroke-width="1"/>
<text x="107.4" y="430.2" font-size="12.6" text-anchor="end" font-weight="normal" fill="#1e1e1e" transform="rotate(-90 107.4 430.2)">Meso</text>
<line x1="122.2" y1="329.6" x2="122.2" y2="319.3" stroke="#2a2a2a" stroke-width="1"/>
<line x1="117.8" y1="319.3" x2="126.8" y2="319.3" stroke="#2a2a2a" stroke-width="1"/>
<rect x="114.35" y="330.25" width="15.80" height="94.15" fill="#7f7f81" stroke="#1e1e1e" stroke-width="1.3"/>
<line x1="122.2" y1="424.4" x2="122.2" y2="427.4" stroke="#2a2a2a" stroke-width="1"/>
<text x="127.0" y="430.2" font-size="12.6" text-anchor="end" font-weight="normal" fill="#1e1e1e" transform="rotate(-90 127.0 430.2)">DU145</text>
<line x1="141.9" y1="340.2" x2="141.9" y2="323.7" stroke="#2a2a2a" stroke-width="1"/>
<line x1="137.4" y1="323.7" x2="146.4" y2="323.7" stroke="#2a2a2a" stroke-width="1"/>
<rect x="134.05" y="340.85" width="15.70" height="83.55" fill="#7f7f81" stroke="#1e1e1e" stroke-width="1.3"/>
<line x1="141.9" y1="424.4" x2="141.9" y2="427.4" stroke="#2a2a2a" stroke-width="1"/>
<text x="146.7" y="430.2" font-size="12.6" text-anchor="end" font-weight="normal" fill="#1e1e1e" transform="rotate(-90 146.7 430.2)">PC3</text>
<line x1="161.2" y1="403.1" x2="161.2" y2="393.7" stroke="#2a2a2a" stroke-width="1"/>
<line x1="156.8" y1="393.7" x2="165.8" y2="393.7" stroke="#2a2a2a" stroke-width="1"/>
<rect x="153.15" y="403.75" width="16.20" height="20.65" fill="#d9d9d9" stroke="#1e1e1e" stroke-width="1.3"/>
<line x1="161.2" y1="424.4" x2="161.2" y2="427.4" stroke="#2a2a2a" stroke-width="1"/>
<text x="166.1" y="430.2" font-size="12.6" text-anchor="end" font-weight="normal" fill="#1e1e1e" transform="rotate(-90 166.1 430.2)">CaCo2</text>
<line x1="180.9" y1="400.5" x2="180.9" y2="397.1" stroke="#2a2a2a" stroke-width="1"/>
<line x1="176.4" y1="397.1" x2="185.4" y2="397.1" stroke="#2a2a2a" stroke-width="1"/>
<rect x="172.95" y="401.15" width="15.80" height="23.25" fill="#d9d9d9" stroke="#1e1e1e" stroke-width="1.3"/>
<line x1="180.9" y1="424.4" x2="180.9" y2="427.4" stroke="#2a2a2a" stroke-width="1"/>
<text x="185.7" y="430.2" font-size="12.6" text-anchor="end" font-weight="normal" fill="#1e1e1e" transform="rotate(-90 185.7 430.2)">HT1376</text>
<text x="50.7" y="406.1" font-size="13.3" text-anchor="start" font-weight="normal" fill="#1e1e1e" transform="rotate(-90 50.7 406.1)" textLength="124.8" lengthAdjust="spacingAndGlyphs">Median fluorescence</text>
<text x="202" y="247.3" font-size="16.4" text-anchor="start" font-weight="bold" fill="#111">C</text>
<path d="M254.2 424.4 V267.7 H352.7 V424.4 Z" fill="none" stroke="#2a2a2a" stroke-width="1"/>
<line x1="250.6" y1="424.4" x2="254.2" y2="424.4" stroke="#2a2a2a" stroke-width="1"/>
<text x="249.6" y="428.6" font-size="12.7" text-anchor="end" font-weight="normal" fill="#1e1e1e">0</text>
<line x1="250.6" y1="385.2" x2="254.2" y2="385.2" stroke="#2a2a2a" stroke-width="1"/>
<text x="249.6" y="389.4" font-size="12.7" text-anchor="end" font-weight="normal" fill="#1e1e1e">1,000</text>
<line x1="250.6" y1="346.0" x2="254.2" y2="346.0" stroke="#2a2a2a" stroke-width="1"/>
<text x="249.6" y="350.2" font-size="12.7" text-anchor="end" font-weight="normal" fill="#1e1e1e">2,000</text>
<line x1="250.6" y1="306.9" x2="254.2" y2="306.9" stroke="#2a2a2a" stroke-width="1"/>
<text x="249.6" y="311.1" font-size="12.7" text-anchor="end" font-weight="normal" fill="#1e1e1e">3,000</text>
<line x1="250.6" y1="267.7" x2="254.2" y2="267.7" stroke="#2a2a2a" stroke-width="1"/>
<text x="249.6" y="271.9" font-size="12.7" text-anchor="end" font-weight="normal" fill="#1e1e1e">4,000</text>
<line x1="254.2" y1="424.4" x2="254.2" y2="427.4" stroke="#2a2a2a" stroke-width="1"/>
<text x="254.6" y="439.2" font-size="12.7" text-anchor="middle" font-weight="normal" fill="#1e1e1e">0.0</text>
<line x1="287.0" y1="424.4" x2="287.0" y2="427.4" stroke="#2a2a2a" stroke-width="1"/>
<text x="287.4" y="439.2" font-size="12.7" text-anchor="middle" font-weight="normal" fill="#1e1e1e">2.5</text>
<line x1="319.9" y1="424.4" x2="319.9" y2="427.4" stroke="#2a2a2a" stroke-width="1"/>
<text x="320.3" y="439.2" font-size="12.7" text-anchor="middle" font-weight="normal" fill="#1e1e1e">5.0</text>
<line x1="352.7" y1="424.4" x2="352.7" y2="427.4" stroke="#2a2a2a" stroke-width="1"/>
<text x="353.1" y="439.2" font-size="12.7" text-anchor="middle" font-weight="normal" fill="#1e1e1e">7.5</text>
<text x="270.5" y="456.8" font-size="13.1" text-anchor="start" font-weight="normal" fill="#1e1e1e" textLength="71.6" lengthAdjust="spacingAndGlyphs">Exo-TGF-β1</text>
<text x="284.3" y="473.2" font-size="13.1" text-anchor="start" font-weight="normal" fill="#1e1e1e" textLength="42.9" lengthAdjust="spacingAndGlyphs">(pg/µg)</text>
<text x="214.0" y="407.9" font-size="13.3" text-anchor="start" font-weight="normal" fill="#1e1e1e" transform="rotate(-90 214.0 407.9)" textLength="124.8" lengthAdjust="spacingAndGlyphs">Median fluorescence</text>
<circle cx="347.2" cy="288.2" r="3.05" fill="#fff" stroke="#1c1c1c" stroke-width="1.3"/>
<circle cx="347.2" cy="314.4" r="3.05" fill="#fff" stroke="#1c1c1c" stroke-width="1.3"/>
<circle cx="347.2" cy="333.7" r="3.05" fill="#fff" stroke="#1c1c1c" stroke-width="1.3"/>
<circle cx="334.6" cy="323.4" r="3.05" fill="#fff" stroke="#1c1c1c" stroke-width="1.3"/>
<circle cx="329.1" cy="319.1" r="3.05" fill="#fff" stroke="#1c1c1c" stroke-width="1.3"/>
<circle cx="329.1" cy="329.4" r="3.05" fill="#fff" stroke="#1c1c1c" stroke-width="1.3"/>
<circle cx="328.9" cy="340.0" r="3.05" fill="#fff" stroke="#1c1c1c" stroke-width="1.3"/>
<circle cx="334.8" cy="340.3" r="3.05" fill="#fff" stroke="#1c1c1c" stroke-width="1.3"/>
<circle cx="254.3" cy="396.5" r="3.05" fill="#fff" stroke="#1c1c1c" stroke-width="1.3"/>
<circle cx="254.3" cy="404.3" r="3.05" fill="#fff" stroke="#1c1c1c" stroke-width="1.3"/>
<circle cx="263.6" cy="396.5" r="3.05" fill="#fff" stroke="#1c1c1c" stroke-width="1.3"/>
<circle cx="264.0" cy="407.8" r="3.05" fill="#fff" stroke="#1c1c1c" stroke-width="1.3"/>
<circle cx="264.0" cy="404.0" r="3.05" fill="#fff" stroke="#1c1c1c" stroke-width="1.3"/>
<circle cx="254.3" cy="368.4" r="3.6" fill="#161616"/>
<circle cx="254.3" cy="390.9" r="3.6" fill="#161616"/>
<circle cx="254.3" cy="402.2" r="3.6" fill="#161616"/>
<circle cx="263.6" cy="368.0" r="3.6" fill="#161616"/>
<circle cx="263.6" cy="376.6" r="3.6" fill="#161616"/>
<circle cx="263.6" cy="383.6" r="3.6" fill="#161616"/>
<circle cx="329.3" cy="357" r="3.6" fill="#161616"/>
<circle cx="335" cy="357" r="3.6" fill="#161616"/>
<circle cx="335" cy="365.8" r="3.6" fill="#161616"/>
<circle cx="335" cy="378" r="3.6" fill="#161616"/>
<circle cx="329.3" cy="382.5" r="3.6" fill="#161616"/>
<circle cx="329.3" cy="388.2" r="3.6" fill="#161616"/>
<circle cx="347.2" cy="368.2" r="3.6" fill="#161616"/>
<circle cx="347.2" cy="377" r="3.6" fill="#161616"/>
<circle cx="347.2" cy="382.5" r="3.6" fill="#161616"/>
<line x1="254.8" y1="406.1" x2="347.3" y2="316.9" stroke="#111" stroke-width="1.7"/>
<line x1="254.3" y1="382.1" x2="347.5" y2="372.5" stroke="#111" stroke-width="1.6" stroke-dasharray="6 3.5" stroke-dashoffset="2.3"/>
<line x1="258" y1="275.2" x2="269.5" y2="275.2" stroke="#222" stroke-width="1"/>
<circle cx="263.9" cy="275.2" r="3.5" fill="#fff" stroke="#1c1c1c" stroke-width="1.4"/>
<line x1="260.7" y1="275.2" x2="267.1" y2="275.2" stroke="#222" stroke-width="1"/>
<text x="270.6" y="279.8" font-size="13" text-anchor="start" font-weight="normal" fill="#1e1e1e" textLength="64.0" lengthAdjust="spacingAndGlyphs">Betaglycan</text>
<text x="257.6" y="296.2" font-size="13.2" font-style="italic" fill="#1e1e1e">r</text>
<text x="263.5" y="292.7" font-size="8.4" fill="#1e1e1e">2</text>
<text x="270.2" y="296.2" font-size="13" text-anchor="start" font-weight="normal" fill="#1e1e1e" textLength="49.1" lengthAdjust="spacingAndGlyphs">= 0.8894</text>
<text x="258.0" y="311.7" font-size="13" font-style="italic" fill="#1e1e1e">P</text>
<text x="269.6" y="311.7" font-size="13" text-anchor="start" font-weight="normal" fill="#1e1e1e" textLength="48.6" lengthAdjust="spacingAndGlyphs">&lt; 0.0001</text>
<line x1="280.7" y1="398" x2="284.8" y2="398" stroke="#222" stroke-width="1.3"/>
<line x1="294.2" y1="398" x2="298.6" y2="398" stroke="#222" stroke-width="1.3"/>
<circle cx="289.4" cy="398" r="3.7" fill="#161616"/>
<text x="299.6" y="402.4" font-size="13" text-anchor="start" font-weight="normal" fill="#1e1e1e" textLength="26.0" lengthAdjust="spacingAndGlyphs">CD9</text>
<text x="284.5" y="418.0" font-size="13.2" font-style="italic" fill="#1e1e1e">r</text>
<text x="290.4" y="414.5" font-size="8.4" fill="#1e1e1e">2</text>
<text x="297.2" y="418.0" font-size="13" text-anchor="start" font-weight="normal" fill="#1e1e1e" textLength="49.6" lengthAdjust="spacingAndGlyphs">= 0.1224</text>
<text x="38.2" y="506.6" font-size="16.4" text-anchor="start" font-weight="bold" fill="#111">D</text>
<path d="M77.30000000000001 527.2 H188.5 V685.8" fill="none" stroke="#2a2a2a" stroke-width="1"/>
<line x1="80.9" y1="527.2" x2="80.9" y2="685.8" stroke="#2a2a2a" stroke-width="1"/>
<line x1="77.30000000000001" y1="685.8" x2="188.5" y2="685.8" stroke="#2a2a2a" stroke-width="1"/>
<line x1="77.30000000000001" y1="685.8" x2="80.9" y2="685.8" stroke="#2a2a2a" stroke-width="1"/>
<text x="74.1" y="690.6" font-size="12.9" text-anchor="end" font-weight="normal" fill="#1e1e1e">0</text>
<line x1="77.30000000000001" y1="671.4" x2="80.9" y2="671.4" stroke="#2a2a2a" stroke-width="1"/>
<text x="74.1" y="676.2" font-size="12.9" text-anchor="end" font-weight="normal" fill="#1e1e1e">10</text>
<line x1="77.30000000000001" y1="657.0" x2="80.9" y2="657.0" stroke="#2a2a2a" stroke-width="1"/>
<text x="74.1" y="661.8" font-size="12.9" text-anchor="end" font-weight="normal" fill="#1e1e1e">20</text>
<line x1="77.30000000000001" y1="642.5" x2="80.9" y2="642.5" stroke="#2a2a2a" stroke-width="1"/>
<text x="74.1" y="647.3" font-size="12.9" text-anchor="end" font-weight="normal" fill="#1e1e1e">30</text>
<line x1="77.30000000000001" y1="628.1" x2="80.9" y2="628.1" stroke="#2a2a2a" stroke-width="1"/>
<text x="74.1" y="632.9" font-size="12.9" text-anchor="end" font-weight="normal" fill="#1e1e1e">40</text>
<line x1="77.30000000000001" y1="613.7" x2="80.9" y2="613.7" stroke="#2a2a2a" stroke-width="1"/>
<text x="74.1" y="618.5" font-size="12.9" text-anchor="end" font-weight="normal" fill="#1e1e1e">50</text>
<line x1="77.30000000000001" y1="599.3" x2="80.9" y2="599.3" stroke="#2a2a2a" stroke-width="1"/>
<text x="74.1" y="604.1" font-size="12.9" text-anchor="end" font-weight="normal" fill="#1e1e1e">60</text>
<line x1="77.30000000000001" y1="584.9" x2="80.9" y2="584.9" stroke="#2a2a2a" stroke-width="1"/>
<text x="74.1" y="589.7" font-size="12.9" text-anchor="end" font-weight="normal" fill="#1e1e1e">70</text>
<line x1="77.30000000000001" y1="570.5" x2="80.9" y2="570.5" stroke="#2a2a2a" stroke-width="1"/>
<text x="74.1" y="575.3" font-size="12.9" text-anchor="end" font-weight="normal" fill="#1e1e1e">80</text>
<line x1="77.30000000000001" y1="556.0" x2="80.9" y2="556.0" stroke="#2a2a2a" stroke-width="1"/>
<text x="74.1" y="560.8" font-size="12.9" text-anchor="end" font-weight="normal" fill="#1e1e1e">90</text>
<line x1="77.30000000000001" y1="541.6" x2="80.9" y2="541.6" stroke="#2a2a2a" stroke-width="1"/>
<text x="74.1" y="546.4" font-size="12.9" text-anchor="end" font-weight="normal" fill="#1e1e1e">100</text>
<line x1="77.30000000000001" y1="527.2" x2="80.9" y2="527.2" stroke="#2a2a2a" stroke-width="1"/>
<text x="74.1" y="532.0" font-size="12.9" text-anchor="end" font-weight="normal" fill="#1e1e1e">110</text>
<line x1="98.6" y1="541.5" x2="98.6" y2="530.6" stroke="#2a2a2a" stroke-width="1"/>
<line x1="94.1" y1="530.6" x2="103.1" y2="530.6" stroke="#2a2a2a" stroke-width="1"/>
<rect x="90.80" y="542.10" width="15.50" height="143.70" fill="#211e1f" stroke="#1d1b1c" stroke-width="1.2"/>
<line x1="117.1" y1="540.4" x2="117.1" y2="529.0" stroke="#2a2a2a" stroke-width="1"/>
<line x1="112.6" y1="529.0" x2="121.6" y2="529.0" stroke="#2a2a2a" stroke-width="1"/>
<rect x="109.00" y="541.00" width="16.20" height="144.80" fill="#fff" stroke="#1d1b1c" stroke-width="1.2"/>
<line x1="152.4" y1="609.0" x2="152.4" y2="597.8" stroke="#2a2a2a" stroke-width="1"/>
<line x1="147.9" y1="597.8" x2="156.9" y2="597.8" stroke="#2a2a2a" stroke-width="1"/>
<rect x="144.40" y="609.60" width="16.00" height="76.20" fill="#211e1f" stroke="#1d1b1c" stroke-width="1.2"/>
<line x1="170.8" y1="542.1" x2="170.8" y2="531.4" stroke="#2a2a2a" stroke-width="1"/>
<line x1="166.2" y1="531.4" x2="175.2" y2="531.4" stroke="#2a2a2a" stroke-width="1"/>
<rect x="162.80" y="542.70" width="15.90" height="143.10" fill="#fff" stroke="#1d1b1c" stroke-width="1.2"/>
<line x1="108.1" y1="685.8" x2="108.1" y2="688.8" stroke="#2a2a2a" stroke-width="1"/>
<line x1="161.7" y1="685.8" x2="161.7" y2="688.8" stroke="#2a2a2a" stroke-width="1"/>
<text x="105.0" y="699.5" font-size="12.9" text-anchor="start" font-weight="normal" fill="#1e1e1e" textLength="6.5" lengthAdjust="spacingAndGlyphs">0</text>
<text x="148.7" y="699.5" font-size="12.9" text-anchor="start" font-weight="normal" fill="#1e1e1e" textLength="21.9" lengthAdjust="spacingAndGlyphs">200</text>
<text x="94.2" y="714.7" font-size="13.2" text-anchor="start" font-weight="normal" fill="#1e1e1e" textLength="75.3" lengthAdjust="spacingAndGlyphs">Pervanadate</text>
<text x="104.2" y="732.8" font-size="13.2" text-anchor="start" font-weight="normal" fill="#1e1e1e" textLength="48.8" lengthAdjust="spacingAndGlyphs">(µmol/L)</text>
<rect x="90.20" y="495.90" width="12.00" height="10.80" fill="#211e1f" stroke="#1d1b1c" stroke-width="1.2"/>
<text x="106.8" y="505.4" font-size="12.9" text-anchor="start" font-weight="normal" fill="#1e1e1e" textLength="63.8" lengthAdjust="spacingAndGlyphs">Betaglycan</text>
<rect x="90.00" y="511.20" width="12.00" height="10.80" fill="#fff" stroke="#1d1b1c" stroke-width="1.2"/>
<text x="106.8" y="520.2" font-size="12.9" text-anchor="start" font-weight="normal" fill="#1e1e1e" textLength="24.5" lengthAdjust="spacingAndGlyphs">CD9</text>
<text x="36.1" y="662.7" font-size="13.3" text-anchor="start" font-weight="normal" fill="#1e1e1e" transform="rotate(-90 36.1 662.7)" textLength="109.0" lengthAdjust="spacingAndGlyphs">Relative exosomal</text>
<text x="52.8" y="650.9" font-size="13.3" text-anchor="start" font-weight="normal" fill="#1e1e1e" transform="rotate(-90 52.8 650.9)" textLength="89.2" lengthAdjust="spacingAndGlyphs">expression (%)</text>
<text x="152.7" y="600.5" font-size="17.5" text-anchor="middle" font-weight="normal" fill="#1e1e1e">**</text>
<text x="215" y="506.6" font-size="16.4" text-anchor="start" font-weight="bold" fill="#111">E</text>
<path d="M252.20000000000002 526.3 H335.1 V685.3" fill="none" stroke="#2a2a2a" stroke-width="1"/>
<line x1="255.8" y1="526.3" x2="255.8" y2="685.3" stroke="#2a2a2a" stroke-width="1"/>
<line x1="252.20000000000002" y1="685.3" x2="335.1" y2="685.3" stroke="#2a2a2a" stroke-width="1"/>
<line x1="252.20000000000002" y1="685.3" x2="255.8" y2="685.3" stroke="#2a2a2a" stroke-width="1"/>
<text x="250.3" y="690.1" font-size="12.9" text-anchor="end" font-weight="normal" fill="#1e1e1e">0</text>
<line x1="252.20000000000002" y1="670.8" x2="255.8" y2="670.8" stroke="#2a2a2a" stroke-width="1"/>
<text x="250.3" y="675.6" font-size="12.9" text-anchor="end" font-weight="normal" fill="#1e1e1e">10</text>
<line x1="252.20000000000002" y1="656.4" x2="255.8" y2="656.4" stroke="#2a2a2a" stroke-width="1"/>
<text x="250.3" y="661.2" font-size="12.9" text-anchor="end" font-weight="normal" fill="#1e1e1e">20</text>
<line x1="252.20000000000002" y1="641.9" x2="255.8" y2="641.9" stroke="#2a2a2a" stroke-width="1"/>
<text x="250.3" y="646.7" font-size="12.9" text-anchor="end" font-weight="normal" fill="#1e1e1e">30</text>
<line x1="252.20000000000002" y1="627.5" x2="255.8" y2="627.5" stroke="#2a2a2a" stroke-width="1"/>
<text x="250.3" y="632.3" font-size="12.9" text-anchor="end" font-weight="normal" fill="#1e1e1e">40</text>
<line x1="252.20000000000002" y1="613.0" x2="255.8" y2="613.0" stroke="#2a2a2a" stroke-width="1"/>
<text x="250.3" y="617.8" font-size="12.9" text-anchor="end" font-weight="normal" fill="#1e1e1e">50</text>
<line x1="252.20000000000002" y1="598.6" x2="255.8" y2="598.6" stroke="#2a2a2a" stroke-width="1"/>
<text x="250.3" y="603.4" font-size="12.9" text-anchor="end" font-weight="normal" fill="#1e1e1e">60</text>
<line x1="252.20000000000002" y1="584.1" x2="255.8" y2="584.1" stroke="#2a2a2a" stroke-width="1"/>
<text x="250.3" y="588.9" font-size="12.9" text-anchor="end" font-weight="normal" fill="#1e1e1e">70</text>
<line x1="252.20000000000002" y1="569.7" x2="255.8" y2="569.7" stroke="#2a2a2a" stroke-width="1"/>
<text x="250.3" y="574.5" font-size="12.9" text-anchor="end" font-weight="normal" fill="#1e1e1e">80</text>
<line x1="252.20000000000002" y1="555.2" x2="255.8" y2="555.2" stroke="#2a2a2a" stroke-width="1"/>
<text x="250.3" y="560.0" font-size="12.9" text-anchor="end" font-weight="normal" fill="#1e1e1e">90</text>
<line x1="252.20000000000002" y1="540.8" x2="255.8" y2="540.8" stroke="#2a2a2a" stroke-width="1"/>
<text x="250.3" y="545.6" font-size="12.9" text-anchor="end" font-weight="normal" fill="#1e1e1e">100</text>
<line x1="252.20000000000002" y1="526.3" x2="255.8" y2="526.3" stroke="#2a2a2a" stroke-width="1"/>
<text x="250.3" y="531.1" font-size="12.9" text-anchor="end" font-weight="normal" fill="#1e1e1e">110</text>
<line x1="275.5" y1="540.7" x2="275.5" y2="537.2" stroke="#2a2a2a" stroke-width="1"/>
<line x1="268.6" y1="537.2" x2="282.4" y2="537.2" stroke="#2a2a2a" stroke-width="1"/>
<rect x="262.80" y="541.30" width="25.50" height="144.00" fill="#211e1f" stroke="#1d1b1c" stroke-width="1.2"/>
<line x1="315.1" y1="591.3" x2="315.1" y2="587.1" stroke="#2a2a2a" stroke-width="1"/>
<line x1="308.2" y1="587.1" x2="321.9" y2="587.1" stroke="#2a2a2a" stroke-width="1"/>
<rect x="302.10" y="591.90" width="25.90" height="93.40" fill="#211e1f" stroke="#1d1b1c" stroke-width="1.2"/>
<line x1="275.4" y1="685.3" x2="275.4" y2="688.3" stroke="#2a2a2a" stroke-width="1"/>
<line x1="315.2" y1="685.3" x2="315.2" y2="688.3" stroke="#2a2a2a" stroke-width="1"/>
<text x="272.3" y="700.2" font-size="12.9" text-anchor="start" font-weight="normal" fill="#1e1e1e" textLength="6.5" lengthAdjust="spacingAndGlyphs">0</text>
<text x="303.7" y="700.2" font-size="12.9" text-anchor="start" font-weight="normal" fill="#1e1e1e" textLength="21.8" lengthAdjust="spacingAndGlyphs">200</text>
<text x="256.7" y="715.6" font-size="13.2" text-anchor="start" font-weight="normal" fill="#1e1e1e" textLength="77.0" lengthAdjust="spacingAndGlyphs">Pervanadate</text>
<text x="270.0" y="733.2" font-size="13.2" text-anchor="start" font-weight="normal" fill="#1e1e1e" textLength="49.2" lengthAdjust="spacingAndGlyphs">(µmol/L)</text>
<rect x="267.50" y="510.00" width="12.00" height="10.80" fill="#211e1f" stroke="#1d1b1c" stroke-width="1.2"/>
<text x="284.2" y="519.8" font-size="12.9" text-anchor="start" font-weight="normal" fill="#1e1e1e" textLength="35.4" lengthAdjust="spacingAndGlyphs">TGF-β</text>
<text x="212.3" y="659.9" font-size="13.3" text-anchor="start" font-weight="normal" fill="#1e1e1e" transform="rotate(-90 212.3 659.9)" textLength="108.8" lengthAdjust="spacingAndGlyphs">Relative exosomal</text>
<text x="228.8" y="630.4" font-size="13.0" text-anchor="start" font-weight="normal" fill="#1e1e1e" transform="rotate(-90 228.8 630.4)" textLength="59.2" lengthAdjust="spacingAndGlyphs">TGF-β (%)</text>
<text x="314.9" y="588.0" font-size="17.5" text-anchor="middle" font-weight="normal" fill="#1e1e1e">***</text>
<text x="375" y="506.6" font-size="16.4" text-anchor="start" font-weight="bold" fill="#111">F</text>
<path d="M409.9 526.3 H492.6 V685.3" fill="none" stroke="#2a2a2a" stroke-width="1"/>
<line x1="413.5" y1="526.3" x2="413.5" y2="685.3" stroke="#2a2a2a" stroke-width="1"/>
<line x1="409.9" y1="685.3" x2="492.6" y2="685.3" stroke="#2a2a2a" stroke-width="1"/>
<line x1="409.9" y1="685.3" x2="413.5" y2="685.3" stroke="#2a2a2a" stroke-width="1"/>
<text x="407.8" y="690.1" font-size="12.9" text-anchor="end" font-weight="normal" fill="#1e1e1e">0</text>
<line x1="409.9" y1="670.8" x2="413.5" y2="670.8" stroke="#2a2a2a" stroke-width="1"/>
<text x="407.8" y="675.6" font-size="12.9" text-anchor="end" font-weight="normal" fill="#1e1e1e">10</text>
<line x1="409.9" y1="656.4" x2="413.5" y2="656.4" stroke="#2a2a2a" stroke-width="1"/>
<text x="407.8" y="661.2" font-size="12.9" text-anchor="end" font-weight="normal" fill="#1e1e1e">20</text>
<line x1="409.9" y1="641.9" x2="413.5" y2="641.9" stroke="#2a2a2a" stroke-width="1"/>
<text x="407.8" y="646.7" font-size="12.9" text-anchor="end" font-weight="normal" fill="#1e1e1e">30</text>
<line x1="409.9" y1="627.5" x2="413.5" y2="627.5" stroke="#2a2a2a" stroke-width="1"/>
<text x="407.8" y="632.3" font-size="12.9" text-anchor="end" font-weight="normal" fill="#1e1e1e">40</text>
<line x1="409.9" y1="613.0" x2="413.5" y2="613.0" stroke="#2a2a2a" stroke-width="1"/>
<text x="407.8" y="617.8" font-size="12.9" text-anchor="end" font-weight="normal" fill="#1e1e1e">50</text>
<line x1="409.9" y1="598.6" x2="413.5" y2="598.6" stroke="#2a2a2a" stroke-width="1"/>
<text x="407.8" y="603.4" font-size="12.9" text-anchor="end" font-weight="normal" fill="#1e1e1e">60</text>
<line x1="409.9" y1="584.1" x2="413.5" y2="584.1" stroke="#2a2a2a" stroke-width="1"/>
<text x="407.8" y="588.9" font-size="12.9" text-anchor="end" font-weight="normal" fill="#1e1e1e">70</text>
<line x1="409.9" y1="569.7" x2="413.5" y2="569.7" stroke="#2a2a2a" stroke-width="1"/>
<text x="407.8" y="574.5" font-size="12.9" text-anchor="end" font-weight="normal" fill="#1e1e1e">80</text>
<line x1="409.9" y1="555.2" x2="413.5" y2="555.2" stroke="#2a2a2a" stroke-width="1"/>
<text x="407.8" y="560.0" font-size="12.9" text-anchor="end" font-weight="normal" fill="#1e1e1e">90</text>
<line x1="409.9" y1="540.8" x2="413.5" y2="540.8" stroke="#2a2a2a" stroke-width="1"/>
<text x="407.8" y="545.6" font-size="12.9" text-anchor="end" font-weight="normal" fill="#1e1e1e">100</text>
<line x1="409.9" y1="526.3" x2="413.5" y2="526.3" stroke="#2a2a2a" stroke-width="1"/>
<text x="407.8" y="531.1" font-size="12.9" text-anchor="end" font-weight="normal" fill="#1e1e1e">110</text>
<line x1="433.0" y1="540.7" x2="433.0" y2="539.6" stroke="#2a2a2a" stroke-width="1"/>
<line x1="426.2" y1="539.6" x2="439.8" y2="539.6" stroke="#2a2a2a" stroke-width="1"/>
<rect x="420.10" y="541.30" width="25.80" height="144.00" fill="#211e1f" stroke="#1d1b1c" stroke-width="1.2"/>
<line x1="472.8" y1="608.8" x2="472.8" y2="605.2" stroke="#2a2a2a" stroke-width="1"/>
<line x1="465.9" y1="605.2" x2="479.6" y2="605.2" stroke="#2a2a2a" stroke-width="1"/>
<rect x="459.70" y="609.40" width="26.10" height="75.90" fill="#211e1f" stroke="#1d1b1c" stroke-width="1.2"/>
<line x1="433" y1="685.3" x2="433" y2="688.3" stroke="#2a2a2a" stroke-width="1"/>
<line x1="472.8" y1="685.3" x2="472.8" y2="688.3" stroke="#2a2a2a" stroke-width="1"/>
<text x="429.8" y="700.2" font-size="12.9" text-anchor="start" font-weight="normal" fill="#1e1e1e" textLength="6.5" lengthAdjust="spacingAndGlyphs">0</text>
<text x="461.8" y="700.2" font-size="12.9" text-anchor="start" font-weight="normal" fill="#1e1e1e" textLength="21.8" lengthAdjust="spacingAndGlyphs">200</text>
<text x="413.9" y="715.6" font-size="13.2" text-anchor="start" font-weight="normal" fill="#1e1e1e" textLength="76.6" lengthAdjust="spacingAndGlyphs">Pervanadate</text>
<text x="427.8" y="733.2" font-size="13.2" text-anchor="start" font-weight="normal" fill="#1e1e1e" textLength="49.6" lengthAdjust="spacingAndGlyphs">(µmol/L)</text>
<rect x="427.50" y="510.00" width="12.00" height="10.80" fill="#211e1f" stroke="#1d1b1c" stroke-width="1.2"/>
<text x="443.6" y="519.4" font-size="12.9" text-anchor="start" font-weight="normal" fill="#1e1e1e" textLength="39.6" lengthAdjust="spacingAndGlyphs">α-SMA</text>
<text x="367.3" y="629.3" font-size="13.0" text-anchor="start" font-weight="normal" fill="#1e1e1e" transform="rotate(-90 367.3 629.3)" textLength="46.5" lengthAdjust="spacingAndGlyphs">Relative</text>
<text x="383.8" y="669.4" font-size="13.2" text-anchor="start" font-weight="normal" fill="#1e1e1e" transform="rotate(-90 383.8 669.4)" textLength="132.0" lengthAdjust="spacingAndGlyphs">α-SMA expression (%)</text>
<text x="473.2" y="606.8" font-size="17.5" text-anchor="middle" font-weight="normal" fill="#1e1e1e">**</text>
</svg>
<div class="ft"></div><div class="fb"></div><div class="fl"></div><div class="fr"></div>
</body></html>
